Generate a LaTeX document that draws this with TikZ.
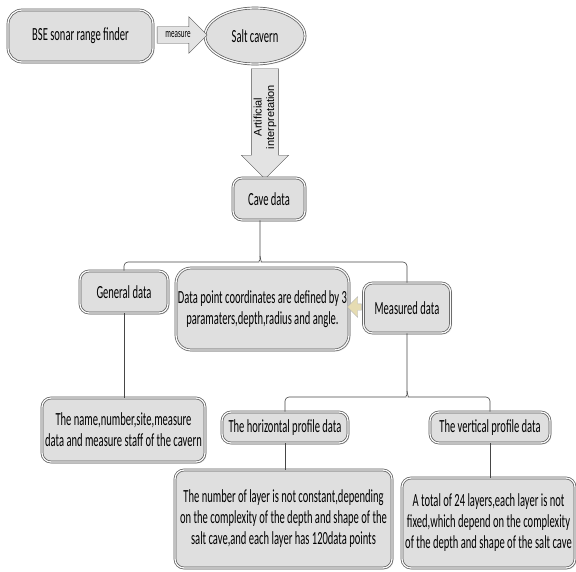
\documentclass[tikz,border=0pt]{standalone}
\usepackage{fontspec}
\setmainfont{Carlito}[FakeStretch=0.57]
\newfontfamily\arrowfont{Liberation Sans}
\usetikzlibrary{shapes.geometric, shapes.arrows, shadows}
\definecolor{callfill}{RGB}{230,220,178}
\tikzset{
    shade box/.style={
        draw=gray!70!black, line width=0.7pt, double=gray!5, double distance=1.3pt,
        fill=gray!25, align=center, inner sep=2pt,
        font=\fontsize{18.5}{21}\selectfont,
        drop shadow={shadow xshift=1.5pt, shadow yshift=-1.5pt, fill=gray!40}
    },
    box/.style={shade box, rectangle, rounded corners=9pt},
    bigbox/.style={shade box, rectangle, rounded corners=15pt},
    flow arrow/.style={
        single arrow, draw=gray!65!black, fill=gray!22,
        align=center, inner xsep=3pt
    },
    tree/.style={draw=gray!55!black, line width=0.6pt, rounded corners=4pt}
}

\begin{document}
\begin{tikzpicture}[x=1pt,y=-1pt]
    \useasboundingbox (0,0) rectangle (576,571);

    \node[box, minimum width=145pt, minimum height=52pt, rounded corners=14pt] (bse) at (80.5,36) {BSE sonar range finder};
    \node[shade box, ellipse, minimum width=100pt, minimum height=56pt] (cavern) at (255,36) {Salt cavern};
    \node[flow arrow, minimum height=50pt, inner ysep=5pt, single arrow head extend=10pt,
        font=\fontsize{12.5}{14}\selectfont] (measure) at (178,35) {measure};
    \node[flow arrow, rotate=90, shape border rotate=180, minimum height=110pt,
        inner ysep=2pt, single arrow head extend=10pt,
        font=\arrowfont\fontsize{11}{12.5}\selectfont] (interp) at (265,117) {Artificial\\interpretation};

    \node[box, minimum width=72pt, minimum height=42pt] (cave) at (269,199) {Cave data};

    \node[box, minimum width=88pt, minimum height=42pt] (gen) at (124,292) {General data};
    \node[bigbox, minimum width=171pt, minimum height=82pt] (coord) at (262.5,309)
        {Data point coordinates are defined by 3\\paramaters,depth,radius and angle.};
    \node[box, minimum width=87pt, minimum height=50pt] (meas) at (407,308) {Measured data};
    \node[single arrow, shape border rotate=180, draw=gray!60, fill=callfill,
        minimum height=14pt, minimum width=20pt, inner sep=3pt] (hint) at (356,307) {};

    \node[box, minimum width=163pt, minimum height=64pt] (name) at (123.5,430)
        {The name,number,site,measure\\data and measure staff of the cavern};

    \node[box, minimum width=126pt, minimum height=31pt] (hor) at (285,427.5) {The horizontal profile data};
    \node[box, minimum width=120pt, minimum height=31pt] (ver) at (490,427.5) {The vertical profile data};

    \node[box, minimum width=217pt, minimum height=98pt] (hdet) at (283.5,519)
        {The number of layer is not constant,depending\\on the complexity of the depth and shape of the\\salt cave,and each layer has 120data points};
    \node[box, minimum width=173pt, minimum height=90pt] (vdet) at (488.5,523)
        {A total of 24 layers,each layer is not\\fixed,which depend on the complexity\\of the depth and shape of the salt cave};

    % branches under the cave data
    \draw[tree] (gen.north) |- (255,262) to[out=0,in=-90] (260,256) -- ([xshift=-9pt]cave.south);
    \draw[tree] (meas.north) |- (265,262) to[out=180,in=-90] (260,256);
    \draw[tree] (gen.south) -- (gen.south |- name.north);

    % branches under the measured data
    \draw[tree] (hor.north) |- (402,397) to[out=0,in=-90] (407,391) -- (meas.south);
    \draw[tree] (ver.north) |- (412,397) to[out=180,in=-90] (407,391);
    \draw[tree] (hor.south) -- (hor.south |- hdet.north);
    \draw[tree] (ver.south) -- (ver.south |- vdet.north);
\end{tikzpicture}
\end{document}
